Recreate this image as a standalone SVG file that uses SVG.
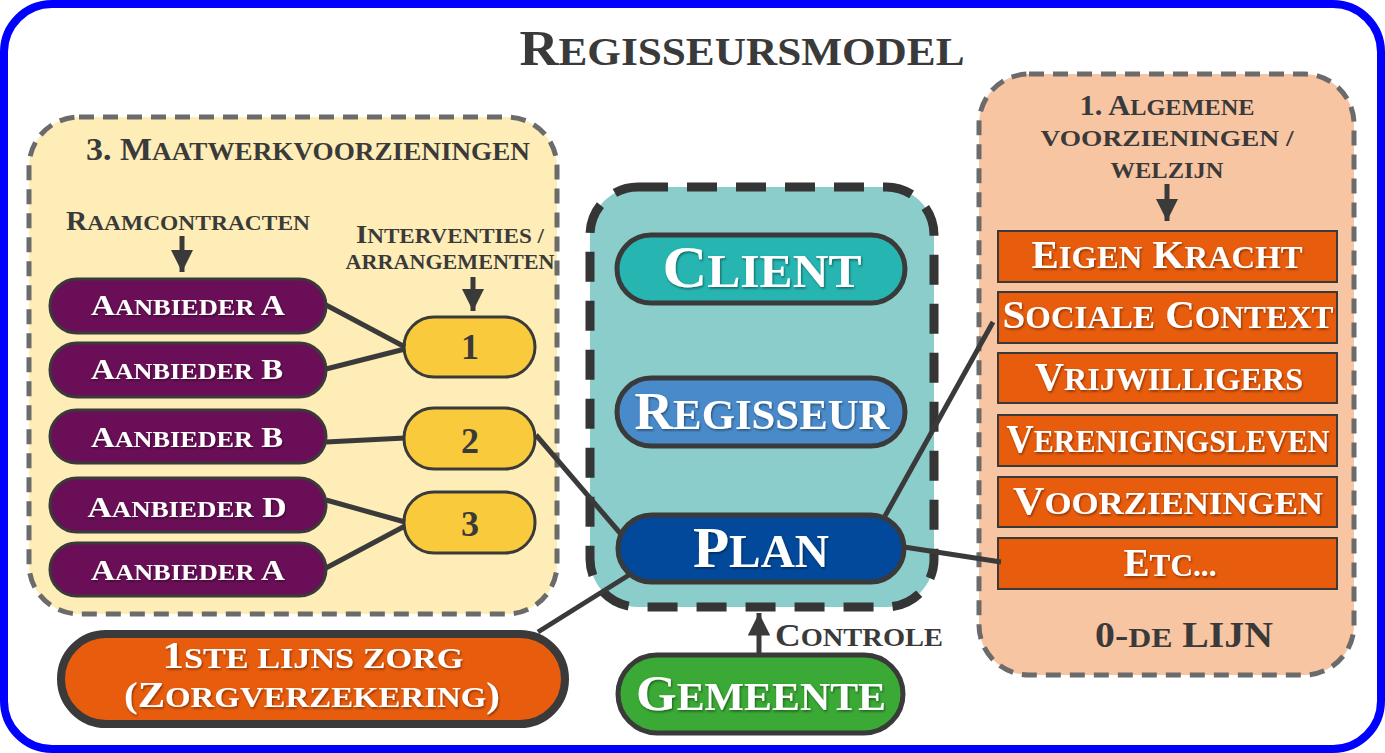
<svg xmlns="http://www.w3.org/2000/svg" width="1385" height="753" viewBox="0 0 1385 753">
<defs>
<style>
text{font-family:"Liberation Serif","DejaVu Serif",serif;font-weight:bold;}
.s{font-size:80%;}
.w{fill:#ffffff;filter:url(#ds);}
.d{fill:#3a3a3a;}
.grp{stroke:#6b6b6b;stroke-width:5;stroke-dasharray:15 9;}
.pill{stroke:#3a3a3a;stroke-width:5;}
.purple{fill:#6a0f57;stroke:#3a3a3a;stroke-width:3;}
.yel{fill:#f9ca3b;stroke:#3a3a3a;stroke-width:3;}
.row{fill:#e85c0d;stroke:#3a3a3a;stroke-width:2;}
.con{stroke:#3a3a3a;stroke-width:5;fill:none;stroke-linecap:butt;}
</style>
<filter id="ds" x="-10%" y="-20%" width="120%" height="140%">
<feDropShadow dx="1" dy="1.5" stdDeviation="1" flood-color="#000" flood-opacity="0.45"/>
</filter>
<marker id="ah" viewBox="0 0 10 10" refX="10" refY="5" markerWidth="4.5" markerHeight="4.5" markerUnits="strokeWidth" orient="auto">
<path d="M0,0 L10,5 L0,10 z" fill="#3a3a3a"/>
</marker>
</defs>

<rect x="4" y="4" width="1377" height="745" rx="48" fill="#ffffff" stroke="#0000ff" stroke-width="8"/>

<text id="title" class="d" x="742" y="65" font-size="50" text-anchor="middle" textLength="445" lengthAdjust="spacingAndGlyphs">R<tspan class="s">EGISSEURSMODEL</tspan></text>

<g id="maatwerk">
<rect class="grp" x="29" y="117" width="528" height="497" rx="50" fill="#feedb6"/>
<text class="d" x="308" y="160" font-size="32" text-anchor="middle" textLength="444" lengthAdjust="spacingAndGlyphs">3. M<tspan class="s">AATWERKVOORZIENINGEN</tspan></text>
<text class="d" x="188" y="230" font-size="27" text-anchor="middle" textLength="244" lengthAdjust="spacingAndGlyphs">R<tspan class="s">AAMCONTRACTEN</tspan></text>
<text class="d" x="450" y="243" font-size="26" text-anchor="middle" textLength="188" lengthAdjust="spacingAndGlyphs">I<tspan class="s">NTERVENTIES /</tspan></text>
<text class="d" x="450" y="269" font-size="26" text-anchor="middle" textLength="209" lengthAdjust="spacingAndGlyphs"><tspan class="s">ARRANGEMENTEN</tspan></text>
</g>

<g id="aanbieder-a1"><rect class="purple" x="50" y="279" width="276" height="54" rx="27"/><text class="w" x="188" y="315" font-size="30" text-anchor="middle" textLength="194" lengthAdjust="spacingAndGlyphs">A<tspan class="s">ANBIEDER</tspan> A</text></g>
<g id="aanbieder-b1"><rect class="purple" x="50" y="343" width="276" height="54" rx="27"/><text class="w" x="187" y="379" font-size="30" text-anchor="middle" textLength="192" lengthAdjust="spacingAndGlyphs">A<tspan class="s">ANBIEDER</tspan> B</text></g>
<g id="aanbieder-b2"><rect class="purple" x="50" y="410" width="276" height="53" rx="26.5"/><text class="w" x="187" y="447" font-size="30" text-anchor="middle" textLength="192" lengthAdjust="spacingAndGlyphs">A<tspan class="s">ANBIEDER</tspan> B</text></g>
<g id="aanbieder-d"><rect class="purple" x="50" y="478" width="276" height="54" rx="27"/><text class="w" x="187" y="517" font-size="30" text-anchor="middle" textLength="199" lengthAdjust="spacingAndGlyphs">A<tspan class="s">ANBIEDER</tspan> D</text></g>
<g id="aanbieder-a2"><rect class="purple" x="50" y="543" width="276" height="53" rx="26.5"/><text class="w" x="188" y="580" font-size="30" text-anchor="middle" textLength="194" lengthAdjust="spacingAndGlyphs">A<tspan class="s">ANBIEDER</tspan> A</text></g>

<g id="int-1"><rect class="yel" x="404" y="317" width="131" height="60" rx="30"/><text class="d" x="470" y="359" font-size="36" text-anchor="middle">1</text></g>
<g id="int-2"><rect class="yel" x="404" y="408" width="131" height="61" rx="30"/><text class="d" x="470" y="453" font-size="36" text-anchor="middle">2</text></g>
<g id="int-3"><rect class="yel" x="404" y="492" width="131" height="61" rx="30"/><text class="d" x="470" y="536" font-size="36" text-anchor="middle">3</text></g>

<g id="regie">
<rect x="590" y="187" width="344" height="420" rx="48" fill="#8acdca" stroke="#353535" stroke-width="9" stroke-dasharray="30 19"/>
</g>

<g id="algemeen">
<rect class="grp" x="979" y="74" width="375" height="601" rx="50" fill="#f8c5a3"/>
<text class="d" x="1167" y="115" font-size="29" text-anchor="middle" textLength="175" lengthAdjust="spacingAndGlyphs">1. A<tspan class="s">LGEMENE</tspan></text>
<text class="d" x="1167" y="146" font-size="29" text-anchor="middle" textLength="253" lengthAdjust="spacingAndGlyphs"><tspan class="s">VOORZIENINGEN /</tspan></text>
<text class="d" x="1167" y="178" font-size="29" text-anchor="middle" textLength="113" lengthAdjust="spacingAndGlyphs"><tspan class="s">WELZIJN</tspan></text>
<text class="d" x="1184" y="647" font-size="35" text-anchor="middle" textLength="178" lengthAdjust="spacingAndGlyphs">0-<tspan class="s">DE</tspan> LIJN</text>
</g>

<g id="eigen-kracht"><rect class="row" x="998" y="231" width="339" height="51"/><text class="w" x="1167" y="268" font-size="39" text-anchor="middle" textLength="271" lengthAdjust="spacingAndGlyphs">E<tspan class="s">IGEN</tspan> K<tspan class="s">RACHT</tspan></text></g>
<g id="sociale-context"><rect class="row" x="998" y="292" width="339" height="51"/><text class="w" x="1168" y="328" font-size="39" text-anchor="middle" textLength="331" lengthAdjust="spacingAndGlyphs">S<tspan class="s">OCIALE</tspan> C<tspan class="s">ONTEXT</tspan></text></g>
<g id="vrijwilligers"><rect class="row" x="998" y="353" width="339" height="50"/><text class="w" x="1169" y="390" font-size="39" text-anchor="middle" textLength="268" lengthAdjust="spacingAndGlyphs">V<tspan class="s">RIJWILLIGERS</tspan></text></g>
<g id="verenigingsleven"><rect class="row" x="998" y="415" width="339" height="51"/><text class="w" x="1168" y="452" font-size="39" text-anchor="middle" textLength="323" lengthAdjust="spacingAndGlyphs">V<tspan class="s">ERENIGINGSLEVEN</tspan></text></g>
<g id="voorzieningen"><rect class="row" x="998" y="477" width="339" height="50"/><text class="w" x="1168" y="514" font-size="39" text-anchor="middle" textLength="310" lengthAdjust="spacingAndGlyphs">V<tspan class="s">OORZIENINGEN</tspan></text></g>
<g id="etc"><rect class="row" x="998" y="538" width="339" height="51"/><text class="w" x="1170" y="576" font-size="39" text-anchor="middle" textLength="93" lengthAdjust="spacingAndGlyphs">E<tspan class="s">TC...</tspan></text></g>

<g id="connectors">
<line class="con" x1="326" y1="305" x2="405" y2="347"/>
<line class="con" x1="326" y1="369" x2="405" y2="349"/>
<line class="con" x1="326" y1="442" x2="405" y2="438"/>
<line class="con" x1="326" y1="500" x2="405" y2="522"/>
<line class="con" x1="326" y1="568" x2="405" y2="526"/>
<line class="con" x1="536" y1="435" x2="620" y2="533"/>
<line class="con" x1="885" y1="516" x2="993" y2="322"/>
<line class="con" x1="904" y1="547" x2="1001" y2="562"/>
<line class="con" x1="629" y1="575" x2="538" y2="632"/>
<line class="con" x1="182" y1="236" x2="182" y2="272" marker-end="url(#ah)"/>
<line class="con" x1="473" y1="277" x2="473" y2="311" marker-end="url(#ah)"/>
<line class="con" x1="1167" y1="184" x2="1167" y2="221" marker-end="url(#ah)"/>
<line class="con" x1="759" y1="654" x2="759" y2="613" marker-end="url(#ah)"/>
<text class="d" x="775" y="646" font-size="32" textLength="168" lengthAdjust="spacingAndGlyphs">C<tspan class="s">ONTROLE</tspan></text>
</g>

<g id="client"><rect class="pill" x="617" y="235" width="288" height="68" rx="34" fill="#26b5b1"/><text class="w" x="762" y="287" font-size="59" text-anchor="middle" textLength="199" lengthAdjust="spacingAndGlyphs">C<tspan class="s">LIENT</tspan></text></g>
<g id="regisseur"><rect class="pill" x="617" y="378" width="288" height="68" rx="34" fill="#498bca"/><text class="w" x="762" y="429" font-size="53" text-anchor="middle" textLength="255" lengthAdjust="spacingAndGlyphs">R<tspan class="s">EGISSEUR</tspan></text></g>
<g id="plan"><rect class="pill" x="618" y="515" width="286" height="67" rx="33.5" fill="#02499b"/><text class="w" x="761" y="567" font-size="58" text-anchor="middle" textLength="136" lengthAdjust="spacingAndGlyphs">P<tspan class="s">LAN</tspan></text></g>

<g id="eerstelijn"><rect x="61" y="634" width="504" height="90" rx="45" fill="#e85c0d" stroke="#3a3a3a" stroke-width="8"/>
<text class="w" x="313" y="668" font-size="37" text-anchor="middle" textLength="301" lengthAdjust="spacingAndGlyphs">1<tspan class="s">STE LIJNS ZORG</tspan></text>
<text class="w" x="312" y="707" font-size="36" text-anchor="middle" textLength="376" lengthAdjust="spacingAndGlyphs">(Z<tspan class="s">ORGVERZEKERING</tspan>)</text></g>

<g id="gemeente"><rect class="pill" x="618" y="655" width="285" height="78" rx="39" fill="#3aa935"/><text class="w" x="761" y="710" font-size="50" text-anchor="middle" textLength="250" lengthAdjust="spacingAndGlyphs">G<tspan class="s">EMEENTE</tspan></text></g>
</svg>
